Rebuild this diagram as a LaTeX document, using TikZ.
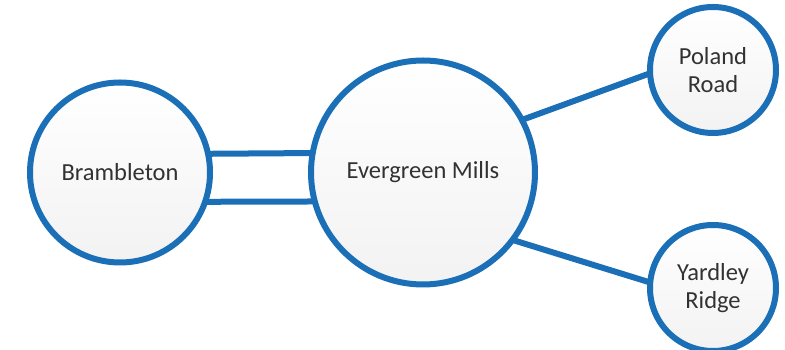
\documentclass[tikz,border=0pt]{standalone}
\usepackage{fontspec}
\setmainfont{Carlito}
\definecolor{ringblue}{RGB}{26,111,182}
\definecolor{txtgray}{RGB}{50,50,50}
\tikzset{
  place/.style={circle, draw=ringblue, line width=6pt, outer sep=0pt,
    top color=white, bottom color=black!5, text=txtgray, align=center,
    font=\fontsize{24.5}{28}\selectfont, inner sep=0pt},
  link/.style={draw=ringblue, line width=6pt}
}
\begin{document}
\begin{tikzpicture}[x=1pt,y=1pt]
\useasboundingbox (0,0) rectangle (785,350);
\node[place, minimum size=180pt] (bram) at (120,177.5) {Brambleton};
\node[place, minimum size=224pt] (ever) at (423,177.5) {Evergreen Mills};
\node[place, minimum size=126pt] (pol) at (713,280) {Poland\\Road};
\node[place, minimum size=126pt] (yar) at (713,62) {Yardley\\Ridge};
\path[link] (bram.12.5) -- (ever.170);
\path[link] (bram.-19.8) -- (ever.195.8);
\path[link] (ever.28.1) -- (pol.183.5);
\path[link] (ever.-37) -- (yar.175.7);
\end{tikzpicture}
\end{document}
